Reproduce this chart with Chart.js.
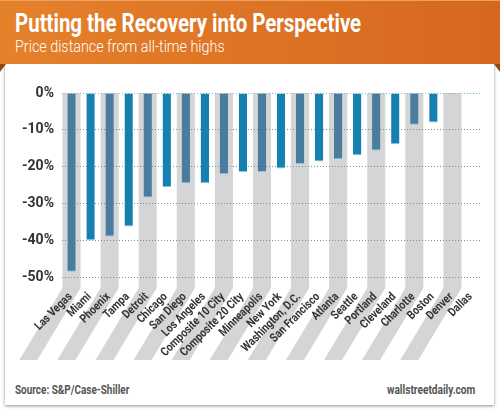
<!DOCTYPE html>
<html>
<head>
<meta charset="utf-8">
<script src="https://cdn.jsdelivr.net/npm/chart.js@4"></script>
<style>
  body { margin: 0; background: #fff; }
  #wrap { position: relative; width: 500px; height: 414px; overflow: hidden; font-family: Roboto, sans-serif; }
  #card { position: absolute; left: 5px; top: 60px; width: 489px; height: 345px; background: #fff; box-shadow: 0 1px 3px rgba(0,0,0,0.45); }
  #banner { position: absolute; left: 0; top: 0; width: 500px; height: 64px; background: linear-gradient(to right, #e5812b, #d6671f); border-top: 1px solid #eda060; box-sizing: border-box; }
  .fold { position: absolute; top: 64px; width: 0; height: 0; border-top: 8px solid #8c4a17; }
  #foldL { left: 0; border-left: 6px solid transparent; transform: scaleX(-1); }
  #foldR { right: 0; border-left: 6px solid transparent; }
  .txt { position: absolute; white-space: nowrap; transform-origin: left top; }
  #title { left: 15px; top: 9px; color: #fff; font-weight: bold; font-size: 25px; }
  #sub { left: 15px; top: 36px; color: #fff; font-size: 17px; font-weight: 300; }
  #src { left: 15px; top: 382px; color: #555; font-weight: bold; font-size: 13px; }
  #site { left: 387px; top: 382px; color: #555; font-weight: bold; font-size: 13px; }
  #box { position: absolute; left: 0; top: 0; width: 500px; height: 414px; }
</style>
</head>
<body>
<div id="wrap">
  <div id="card"></div>
  <div id="banner"></div>
  <div class="fold" id="foldL"></div>
  <div class="fold" id="foldR"></div>
  <div class="txt" id="title" data-w="346">Putting the Recovery into Perspective</div>
  <div class="txt" id="sub" data-w="210">Price distance from all-time highs</div>
  <div class="txt" id="src" data-w="114">Source: S&amp;P/Case-Shiller</div>
  <div class="txt" id="site" data-w="88">wallstreetdaily.com</div>
  <div id="box"><canvas id="myChart"></canvas></div>
</div>
<script>
// data
let cities = ["Las Vegas", "Miami", "Phoenix", "Tampa", "Detroit", "Chicago", "San Diego",
  "Los Angeles", "Composite 10 City", "Composite 20 City", "Minneapolis", "New York",
  "Washington, D.C.", "San Francisco", "Atlanta", "Seattle", "Portland", "Cleveland",
  "Charlotte", "Boston", "Denver", "Dallas"];
let distance = [-48.6, -40, -39, -36.3, -28.4, -25.6, -24.5, -24.5, -22.1, -21.5, -21.5,
  -20.5, -19.3, -18.6, -18, -16.9, -15.6, -13.9, -8.6, -8, -0.3, -0.3];
let yTicks = [0, -10, -20, -30, -40, -50];

// squeeze the html texts to the narrow look of the original
document.querySelectorAll(".txt").forEach((el) => {
  el.style.transform = "scaleX(" + el.dataset.w / el.offsetWidth + ")";
});

// gray stripes behind every other city, bent down-left under the labels
let stripes = {
  id: "stripes",
  beforeDraw(chart) {
    let ctx = chart.ctx;
    let x = chart.scales.x;
    let area = chart.chartArea;
    let w = x.width / cities.length;
    let bend = area.bottom + 11;
    let bottom = 360;
    let shift = (bottom - bend) * 0.6;
    ctx.save();
    ctx.fillStyle = "#d4d5d7";
    for (let i = 0; i < cities.length; i += 2) {
      let c = x.getPixelForValue(i);
      let l = c - w / 2 + 0.5, r = c + w / 2 - 0.5;
      ctx.beginPath();
      ctx.moveTo(l, area.top);
      ctx.lineTo(r, area.top);
      ctx.lineTo(r, bend);
      ctx.lineTo(r - shift, bottom);
      ctx.lineTo(l - shift, bottom);
      ctx.lineTo(l, bend);
      ctx.closePath();
      ctx.fill();
    }
    ctx.restore();
  },
  // city names, slanted 45 degrees and a bit condensed
  afterDraw(chart) {
    let ctx = chart.ctx;
    let x = chart.scales.x;
    let y0 = chart.chartArea.bottom + 18;
    ctx.save();
    ctx.fillStyle = "#333";
    ctx.font = "bold 12px Roboto";
    ctx.textAlign = "right";
    ctx.textBaseline = "middle";
    cities.forEach((name, i) => {
      ctx.save();
      ctx.translate(x.getPixelForValue(i) - 1, y0);
      ctx.rotate(-Math.PI / 4);
      ctx.scale(0.85, 1);
      ctx.fillText(name, 0, 0);
      ctx.restore();
    });
    ctx.restore();
  }
};

let myChart = document.getElementById("myChart").getContext("2d");

let housingChart = new Chart(myChart, {
  type: "bar",
  data: {
    labels: cities,
    datasets: [
      {
        label: "Price distance",
        data: distance,
        backgroundColor: cities.map((c, i) => (i % 2 === 0 ? "#4a7c9e" : "#1681b0")),
        borderColor: "#8fc3e0",
        borderWidth: { top: 0, left: 0, right: 0, bottom: 1 },
        borderSkipped: false,
        barPercentage: 0.44,
        categoryPercentage: 1,
      },
    ],
  },
  options: {
    responsive: true,
    maintainAspectRatio: false,
    animation: false,
    layout: { padding: { left: 0, right: 19, top: 93, bottom: 37 } },
    plugins: {
      legend: { display: false },
      tooltip: { enabled: false },
    },
    scales: {
      x: {
        afterFit: (s) => { s.height = 100; },
        grid: { display: false },
        border: { display: false },
        ticks: { display: false },
      },
      y: {
        min: -50,
        max: 0,
        afterFit: (s) => { s.width = 62; },
        afterBuildTicks: (s) => { s.ticks = yTicks.map((v) => ({ value: v })); },
        border: { display: false, dash: [1, 2] },
        grid: {
          drawTicks: false,
          color: (c) => (c.tick && c.tick.value === 0 ? "#7fb5d6" : "#8a8a8a"),
          lineWidth: 1,
        },
        ticks: {
          padding: 8,
          color: "#333",
          font: { family: "Roboto", size: 14, weight: "bold" },
          callback: (v) => v + "%",
        },
      },
    },
  },
  plugins: [stripes],
});
</script>
</body>
</html>
